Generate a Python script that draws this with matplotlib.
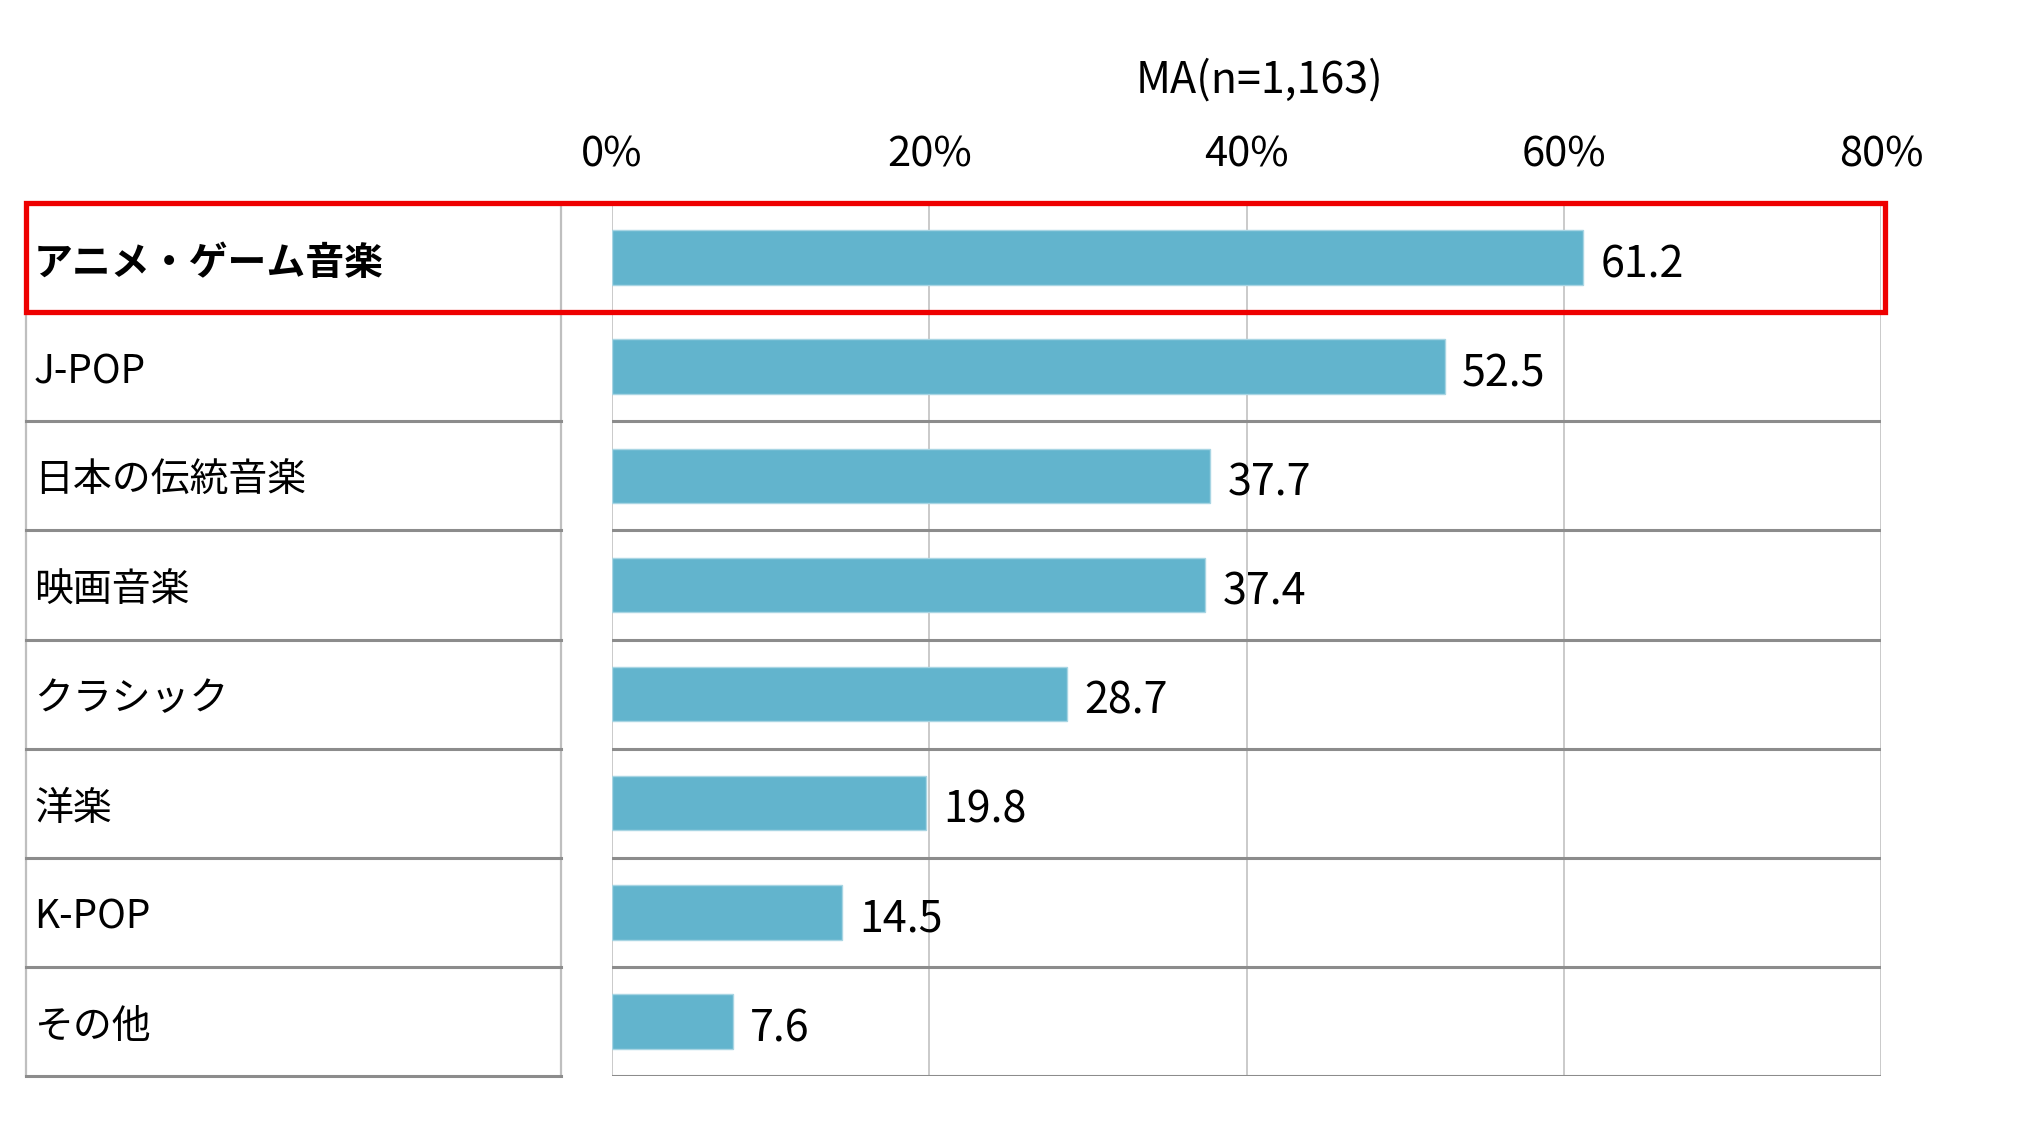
import matplotlib
matplotlib.use('Agg')
import matplotlib.pyplot as plt
from matplotlib.patches import Rectangle
from matplotlib.transforms import blended_transform_factory

plt.rcParams['font.family'] = ['Noto Sans CJK JP', 'DejaVu Sans']

categories = ['アニメ・ゲーム音楽', 'J-POP', '日本の伝統音楽', '映画音楽',
              'クラシック', '洋楽', 'K-POP', 'その他']
values = [61.2, 52.5, 37.7, 37.4, 28.7, 19.8, 14.5, 7.6]
xticks = [0, 20, 40, 60, 80]
xtick_labels = ['0%', '20%', '40%', '60%', '80%']
title = 'MA(n=1,163)'

W, H = 2030, 1121
fig = plt.figure(figsize=(W / 100, H / 100), dpi=100)
# plot area in pixel coords of the reference
left, right, top, bottom = 612, 1881, 203, 1076
ax = fig.add_axes([left / W, 1 - bottom / H, (right - left) / W, (bottom - top) / H])

n = len(categories)
ypos = list(range(n))
ax.barh(ypos, values, height=0.5, color='#62B4CD', edgecolor='#A8D5E3',
        linewidth=1, zorder=3)

for y, v in zip(ypos, values):
    ax.text(v + 1.1, y + 0.07, f'{v:.1f}', va='center', ha='left',
            fontsize=31, color='black', zorder=4)

ax.set_xlim(0, 80)
ax.set_ylim(n - 0.5, -0.5)
ax.set_yticks([])
ax.set_xticks(xticks)
ax.set_xticklabels(xtick_labels, fontsize=30)
ax.xaxis.tick_top()
ax.tick_params(axis='x', length=0, pad=20)
for s in ax.spines.values():
    s.set_visible(False)
ax.grid(axis='x', color='#C6C6C6', linewidth=1.3, zorder=1)

# row separators inside the plot area
for i in range(n):
    ax.axhline(i + 0.5, color='#8C8C8C', linewidth=2.2, zorder=2)

fig.text(1260 / W, 1 - 81 / H, title, ha='center', va='center', fontsize=31)

# left label table
tr = blended_transform_factory(fig.transFigure, ax.transData)
tl, tr_x = 26 / W, 561 / W
ax.plot([tl, tl], [-0.5, n - 0.5], transform=tr, color='#BFBFBF', lw=1.6, clip_on=False)
ax.plot([tr_x, tr_x], [-0.5, n - 0.5], transform=tr, color='#BFBFBF', lw=1.6, clip_on=False)
for i in range(n):
    ax.plot([tl, tr_x], [i + 0.5, i + 0.5], transform=tr, color='#8C8C8C',
            lw=2.2, clip_on=False)

for i, c in enumerate(categories):
    ax.text(34 / W, i + 0.05, c, transform=tr, va='center', ha='left',
            fontsize=28, fontweight='bold' if i == 0 else 'normal', clip_on=False)

# highlight box around the first row
ax.add_patch(Rectangle((tl, -0.5), 1885 / W - tl, 1.0, transform=tr,
                       fill=False, edgecolor='#EE0000', linewidth=3.8,
                       clip_on=False, zorder=6))

fig.savefig('out.png', dpi=100, facecolor='white')
